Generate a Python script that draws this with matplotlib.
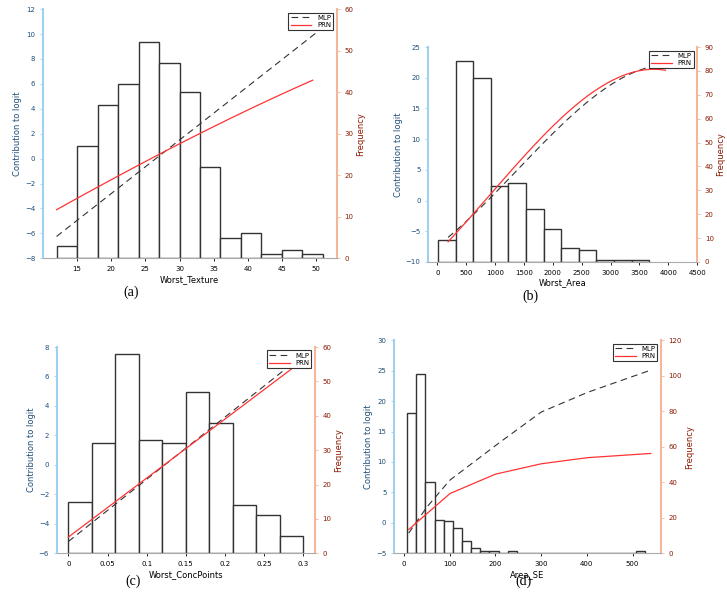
import numpy as np
import matplotlib
matplotlib.use("Agg")
import matplotlib.pyplot as plt

# (a) Worst_Texture
a_edges = [12, 15, 18, 21, 24, 27, 30, 33, 36, 39, 42, 45, 48, 51]
a_counts = [3, 27, 37, 42, 52, 47, 40, 22, 5, 6, 1, 2, 1]
a_mlp_x = [12, 50]; a_mlp_y = [-6.25, 10.1]
a_prn_x = [12, 20, 30, 40, 49.5]; a_prn_y = [-4.1, -1.7, 1.2, 3.9, 6.3]
# (b) Worst_Area
b_edges = [10, 315, 620, 925, 1230, 1535, 1840, 2145, 2450, 2755, 3060, 3365, 3670]
b_counts = [9, 84, 77, 32, 33, 22, 14, 6, 5, 1, 1, 1]
b_mlp_x = [184, 1000, 2000, 3000, 3750]; b_mlp_y = [-5.9, 0.9, 11.4, 18.5, 22.0]
b_prn_x = [184, 1000, 2000, 3000, 3950]; b_prn_y = [-6.5, 1.2, 13.1, 18.8, 21.4]
# (c) Worst_ConcPoints
c_edges = [0, 0.03, 0.06, 0.09, 0.12, 0.15, 0.18, 0.21, 0.24, 0.27, 0.30]
c_counts = [15, 32, 58, 33, 32, 47, 38, 14, 11, 5]
c_mlp_x = [0, 0.275]; c_mlp_y = [-5.2, 6.4]
c_prn_x = [0, 0.29]; c_prn_y = [-4.9, 6.7]
# (d) Area_SE
d_edges = [6.8 + 20 * k for k in range(27)]
d_counts = [79, 101, 40, 19, 18, 14, 7, 3, 1, 1, 0, 1, 0, 0, 0, 0, 0, 0, 0, 0, 0, 0, 0, 0, 0, 1]
d_mlp_x = [10, 50, 100, 200, 300, 400, 540]; d_mlp_y = [-1.7, 2.6, 7.0, 12.7, 18.2, 21.4, 25.1]
d_prn_x = [10, 50, 100, 200, 300, 400, 540]; d_prn_y = [-1.1, 1.5, 4.8, 8.0, 9.7, 10.7, 11.4]

panels = [
    dict(pos=[0.059, 0.578, 0.404, 0.407], edges=a_edges, counts=a_counts, mx=a_mlp_x, my=a_mlp_y,
         px=a_prn_x, py=a_prn_y, xl=(10, 53), yl=(-8, 12), yt=np.arange(-8, 13, 2), rl=(0, 60), rt=np.arange(0, 61, 10),
         xt=[15, 20, 25, 30, 35, 40, 45, 50], xlabel="Worst_Texture", cap="(a)", capxy=(0.18, 0.523), fit=True),
    dict(pos=[0.589, 0.572, 0.370, 0.351], edges=b_edges, counts=b_counts, mx=b_mlp_x, my=b_mlp_y,
         px=b_prn_x, py=b_prn_y, xl=(-160, 4500), yl=(-10, 25), yt=np.arange(-10, 26, 5), rl=(0, 90), rt=np.arange(0, 91, 10),
         xt=np.arange(0, 4501, 500), xlabel="Worst_Area", cap="(b)", capxy=(0.73, 0.516), fit=True),
    dict(pos=[0.078, 0.096, 0.355, 0.337], edges=c_edges, counts=c_counts, mx=c_mlp_x, my=c_mlp_y,
         px=c_prn_x, py=c_prn_y, xl=(-0.015, 0.315), yl=(-6, 8), yt=np.arange(-6, 9, 2), rl=(0, 60), rt=np.arange(0, 61, 10),
         xt=[0, 0.05, 0.1, 0.15, 0.2, 0.25, 0.3], xlabel="Worst_ConcPoints", cap="(c)", capxy=(0.183, 0.05), fit=False),
    dict(pos=[0.542, 0.096, 0.367, 0.348], edges=d_edges, counts=d_counts, mx=d_mlp_x, my=d_mlp_y,
         px=d_prn_x, py=d_prn_y, xl=(-22, 562), yl=(-5, 30), yt=np.arange(-5, 31, 5), rl=(0, 120), rt=np.arange(0, 121, 20),
         xt=[0, 100, 200, 300, 400, 500], xlabel="Area_SE", cap="(d)", capxy=(0.72, 0.05), fit=False),
]

fig = plt.figure(figsize=(7.27, 6.12), dpi=100)
blue_sp, blue_tx = "#9fd0ee", "#1f4e79"
red_sp, red_tx = "#f3b79a", "#8b1a00"

def interp(x, y, fit):
    xs = np.linspace(x[0], x[-1], 200)
    if fit and len(x) > 2:
        c = np.polyfit(x, y, min(3, len(x) - 1))
        return xs, np.polyval(c, xs)
    return xs, np.interp(xs, x, y)

for p in panels:
    ax = fig.add_axes(p["pos"])
    ax2 = ax.twinx()
    ax.set_zorder(ax2.get_zorder() + 1)
    ax.patch.set_visible(False)
    e = np.array(p["edges"], float)
    ax2.bar(e[:-1], p["counts"], width=np.diff(e), align="edge", facecolor="white",
            edgecolor="#333333", linewidth=1.0)
    ax2.set_ylim(*p["rl"]); ax2.set_yticks(p["rt"])
    xs, ys = interp(p["mx"], p["my"], p["fit"])
    ax.plot(xs, ys, "--", color="#333333", lw=0.8, dashes=(6, 4), label="MLP")
    xs, ys = interp(p["px"], p["py"], p["fit"])
    ax.plot(xs, ys, "-", color="#ff3333", lw=0.9, label="PRN")
    ax.set_xlim(*p["xl"]); ax.set_ylim(*p["yl"]); ax.set_yticks(p["yt"]); ax.set_xticks(p["xt"])
    ax.set_xticklabels([("%g" % v) for v in p["xt"]])
    ax.set_xlabel(p["xlabel"], fontsize=6, labelpad=2)
    ax.set_ylabel("Contribution to logit", fontsize=6, color=blue_tx, labelpad=2)
    ax2.set_ylabel("Frequency", fontsize=6, color=red_tx, labelpad=2)
    for a in (ax, ax2):
        a.spines["top"].set_visible(False)
        a.tick_params(labelsize=5, length=2, width=0.6)
    ax.spines["left"].set_color(blue_sp); ax.spines["left"].set_linewidth(1.5)
    ax2.spines["right"].set_color(red_sp); ax2.spines["right"].set_linewidth(1.5)
    ax.spines["right"].set_visible(False); ax2.spines["left"].set_visible(False)
    ax.tick_params(axis="y", colors=blue_sp, labelcolor=blue_tx)
    ax2.tick_params(axis="y", colors=red_sp, labelcolor=red_tx)
    ax.spines["bottom"].set_color("#aaaaaa"); ax2.spines["bottom"].set_visible(False)
    leg = ax.legend(loc="upper right", fontsize=5, frameon=True, fancybox=False, handlelength=3,
                    borderpad=0.3, labelspacing=0.2, edgecolor="#333333", framealpha=1)
    leg.get_frame().set_linewidth(0.8)
    fig.text(p["capxy"][0], p["capxy"][1], p["cap"], fontsize=10, family="Liberation Serif",
             ha="center", va="center")

fig.savefig("out.png", dpi=100)
